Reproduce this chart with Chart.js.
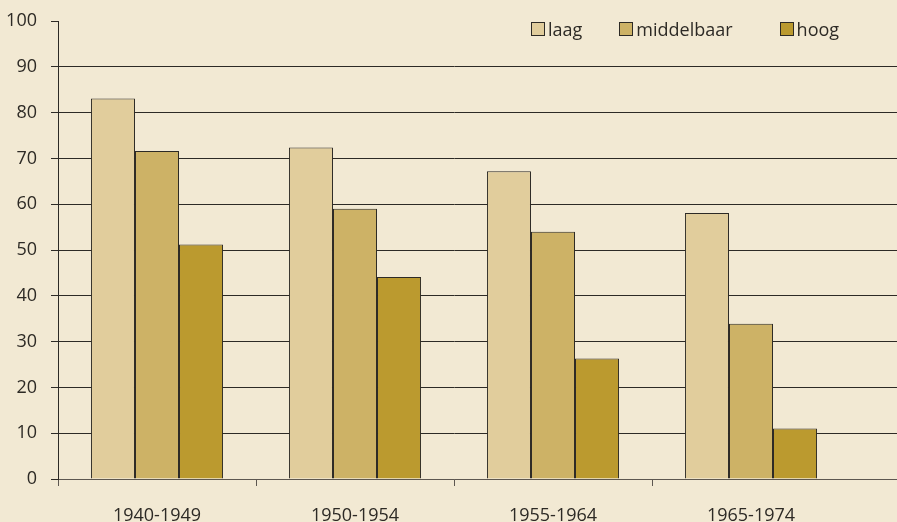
<!DOCTYPE html>
<html>
<head>
<meta charset="utf-8">
<script src="https://cdn.jsdelivr.net/npm/chart.js@4"></script>
<style>
    html, body { margin: 0; padding: 0; background: #f2e9d3; overflow: hidden; }
    #wrap { position: relative; width: 897px; height: 522px; }
    #legend {
        position: absolute; top: 17px; left: 531px; display: flex;
        font: 18px "Open Sans", sans-serif; color: #2d2a25;
    }
    .item { display: flex; align-items: center; }
    .box { width: 12px; height: 12px; border: 1px solid #2d2a25; margin-right: 3px; }
</style>
</head>
<body>
<div id="wrap">
    <canvas id="chart" width="897" height="522"></canvas>
    <div id="legend"></div>
</div>
<script>
// data
const categories = ['1940-1949', '1950-1954', '1955-1964', '1965-1974'];
const seriesNames = ['laag', 'middelbaar', 'hoog'];
const laag = [83.1, 72.4, 67.2, 58.1];
const middelbaar = [71.6, 59.0, 54.0, 33.9];
const hoog = [51.2, 44.1, 26.3, 11.0];
const yTicks = [0, 10, 20, 30, 40, 50, 60, 70, 80, 90, 100];

const colors = ['#e1cd9c', '#cdb266', '#bb9a2f'];
const ink = '#2d2a25';

// legend gaps differ a bit in the original
const legendGaps = [37, 47, 0];
document.getElementById('legend').innerHTML = seriesNames.map((n, i) => `
    <div class="item" style="margin-right:${legendGaps[i]}px">
        <span class="box" style="background:${colors[i]}"></span>${n}
    </div>`).join('');

// gridlines in the original run on past the plot to the right edge
const extendGrid = {
    id: 'extendGrid',
    beforeDatasetsDraw(chart) {
        const { ctx, chartArea, scales } = chart;
        ctx.save();
        ctx.lineWidth = 1;
        yTicks.forEach(v => {
            if (v === 100) return;
            const y = Math.round(scales.y.getPixelForValue(v) - 0.5) + 0.5;
            ctx.strokeStyle = v === 0 ? '#5d5750' : ink;
            ctx.beginPath();
            ctx.moveTo(chartArea.right, y);
            ctx.lineTo(chart.width, y);
            ctx.stroke();
        });
        ctx.restore();
    }
};

const series = [laag, middelbaar, hoog];
new Chart(document.getElementById('chart'), {
    type: 'bar',
    data: {
        labels: categories,
        datasets: series.map((d, i) => ({
            label: seriesNames[i],
            data: d,
            backgroundColor: colors[i],
            borderColor: ink,
            borderWidth: 1,
            categoryPercentage: 0.667,
            barPercentage: 1,
        }))
    },
    options: {
        responsive: false,
        animation: false,
        layout: { padding: { top: 21, right: 47, left: 0, bottom: 0 } },
        plugins: { legend: { display: false }, tooltip: { enabled: false } },
        scales: {
            x: {
                grid: {
                    drawOnChartArea: false,
                    tickLength: 7,
                    tickColor: c => c.tick ? '#5d5750' : 'rgba(0,0,0,0)',
                },
                border: { color: '#5d5750', width: 1 },
                ticks: { color: ink, padding: 19, font: { family: 'Open Sans', size: 18 } },
                afterFit: s => { s.height = 43; }
            },
            y: {
                min: 0, max: 100,
                afterBuildTicks: s => { s.ticks = yTicks.map(v => ({ value: v })); },
                grid: {
                    color: c => c.tick && c.tick.value === 100 ? 'rgba(0,0,0,0)' : (c.tick && c.tick.value === 0 ? '#5d5750' : ink),
                    tickColor: ink,
                    tickLength: 7,
                },
                border: { color: ink, width: 1 },
                ticks: { color: ink, padding: 14, font: { family: 'Open Sans', size: 18 } },
                // let the top label stick out so the plot can start at y=21
                afterFit: s => { s.width = 58; s.paddingTop = 0; s.paddingBottom = 0; }
            }
        }
    },
    plugins: [extendGrid]
});
</script>
</body>
</html>
